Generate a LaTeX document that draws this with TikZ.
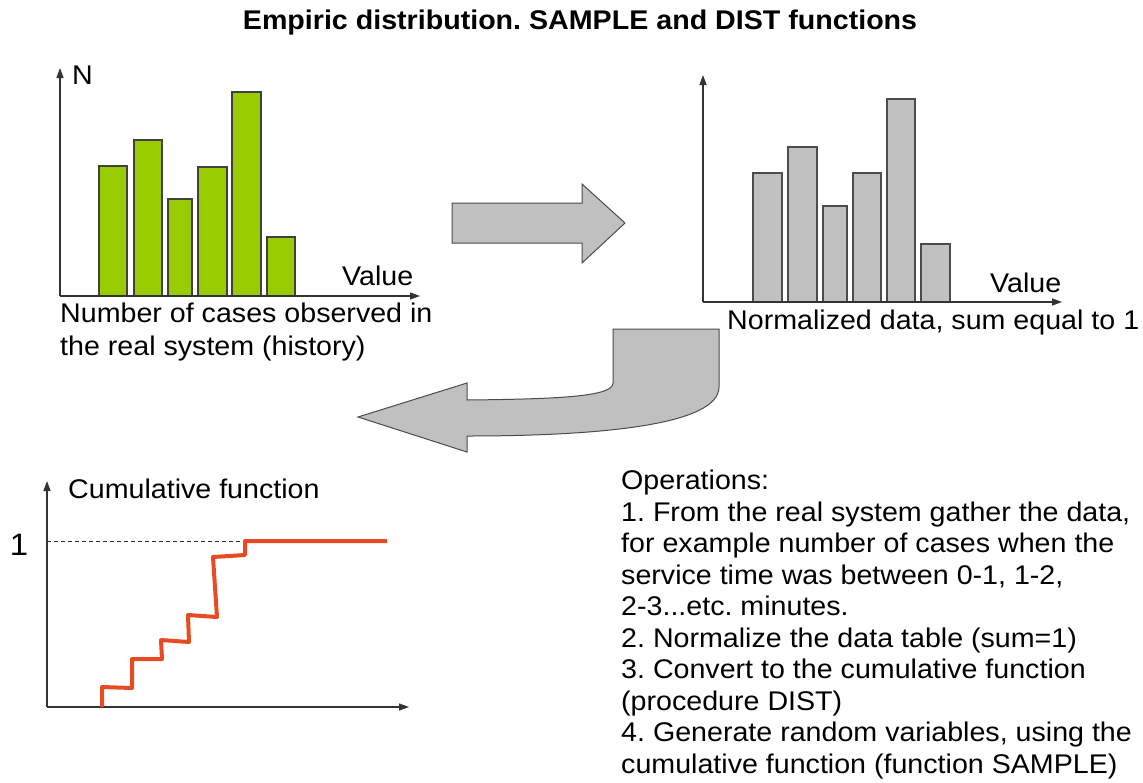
\documentclass[tikz,border=0pt]{standalone}
\usepackage{fontspec}
\setmainfont[FakeStretch=1.06]{Liberation Sans}
\usetikzlibrary{arrows.meta}
\definecolor{barGreen}{HTML}{99CC00}
\definecolor{barGray}{HTML}{C0C0C0}
\definecolor{stepRed}{HTML}{E84A22}
\definecolor{axisGray}{HTML}{333333}
\frenchspacing
\begin{document}
\begin{tikzpicture}[x=1pt,y=-1pt,
  txt/.style={font=\fontsize{27}{31}\selectfont, inner sep=0pt, anchor=base west, text=black},
  ttl/.style={font=\fontsize{27}{31}\selectfont\bfseries, inner sep=0pt, anchor=base, text=black},
  axis/.style={draw=axisGray, line width=1.3pt, -{Triangle[length=10pt,width=7pt]}},
  gbar/.style={fill=barGreen, draw=black!75, line width=1.2pt},
  sbar/.style={fill=barGray, draw=black!70, line width=1.2pt},
  bigarrow/.style={fill=barGray, draw=black!70, line width=1pt, line join=miter},
  cdfline/.style={draw=stepRed, line width=4pt, line join=round}
]
\path[use as bounding box, fill=white] (0,0) rectangle (1143,782);

% title
\node[ttl] (title) at (580,29) {Empiric distribution. SAMPLE and DIST functions};

% ---- left histogram ----
\coordinate (lo) at (60,296);
\coordinate (ly) at (60,68);
\coordinate (lx) at (420,296);
\draw[gbar] (99,296) rectangle (127,166);
\draw[gbar] (134,296) rectangle (162,140);
\draw[gbar] (168,296) rectangle (192,199);
\draw[gbar] (198,296) rectangle (227,167);
\draw[gbar] (232,296) rectangle (261,92);
\draw[gbar] (267,296) rectangle (295,237);
\draw[axis] (lo) -- (ly);
\draw[axis] (lo) -- (lx);
\node[txt] (nlab) at (72,84) {N};
\node[txt] (lval) at (342,285) {Value};
\node[txt] (lcap1) at (60,322) {Number of cases observed in};
\node[txt] (lcap2) at (60,355) {the real system (history)};

% ---- right histogram ----
\coordinate (ro) at (703,302);
\coordinate (ry) at (703,75);
\coordinate (rx) at (1062,302);
\draw[sbar] (753,302) rectangle (782,173);
\draw[sbar] (788,302) rectangle (817,147);
\draw[sbar] (823,302) rectangle (847,206);
\draw[sbar] (853,302) rectangle (881,173);
\draw[sbar] (887,302) rectangle (915,99);
\draw[sbar] (921,302) rectangle (950,244);
\draw[axis] (ro) -- (ry);
\draw[axis] (ro) -- (rx);
\node[txt] (rval) at (990,292) {Value};
\node[txt] (rcap) at (727,329) {Normalized data, sum equal to 1};

% ---- block arrows ----
\draw[bigarrow] (452,203) -- (582,203) -- (582,184) -- (625,223) -- (582,263)
  -- (582,243) -- (452,243) -- cycle;
\draw[bigarrow] (613,329) -- (719,329) -- (719,387)
  .. controls (719,425) and (600,436) .. (467,436)
  -- (467,452) -- (358,417) -- (467,383) -- (467,400)
  .. controls (565,399) and (613,396) .. (613,383) -- cycle;

% ---- cumulative function ----
\coordinate (co) at (47,707);
\coordinate (cy) at (47,481);
\coordinate (cx) at (409,707);
\draw[axis] (co) -- (cy);
\draw[axis] (co) -- (cx);
\node[txt] (clab) at (68,498) {Cumulative function};
\node[txt, anchor=base, font=\fontsize{31}{31}\selectfont] (one) at (19,555) {1};
\draw[dashed, dash pattern=on 4pt off 3pt, black!80, line width=1pt] (47,541) -- (387,541);
\draw[cdfline] (102,707) -- (102,687) -- (132,688) -- (132,659) -- (162,659)
  -- (161,640) -- (189,642) -- (188,615) -- (217,617) -- (213,557)
  -- (245,555) -- (245,541) -- (387,541);

% ---- operations text ----
\node[txt] (op0) at (621,489.5) {Operations:};
\node[txt] (op1) at (621,521) {1. From the real system gather the data,};
\node[txt] (op2) at (621,552.5) {for example number of cases when the};
\node[txt] (op3) at (621,584) {service time was between 0-1, 1-2,};
\node[txt] (op4) at (621,615.5) {2-3...etc. minutes.};
\node[txt] (op5) at (621,647) {2. Normalize the data table (sum=1)};
\node[txt] (op6) at (621,678.5) {3. Convert to the cumulative function};
\node[txt] (op7) at (621,710) {(procedure DIST)};
\node[txt] (op8) at (621,741.5) {4. Generate random variables, using the};
\node[txt] (op9) at (621,773) {cumulative function (function SAMPLE)};
\end{tikzpicture}
\end{document}
